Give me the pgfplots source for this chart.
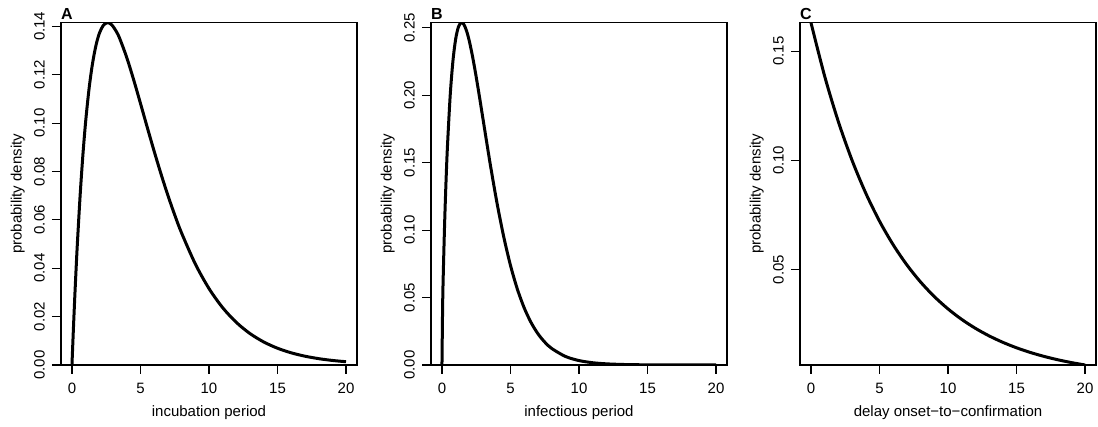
\documentclass[border=0pt]{standalone}
\usepackage{pgfplots}
\pgfplotsset{compat=1.18}
\usepackage{fontspec}
\setmainfont{Liberation Sans}
\pgfplotstableread{
x y
0 0
0.1 0.014235
0.2 0.027396
0.3 0.039543
0.4 0.050734
0.6 0.070467
0.8 0.087002
1.0 0.100701
1.25 0.114336
1.5 0.124622
1.75 0.132063
2.0 0.137092
2.3 0.140474
2.6 0.141492
2.9 0.140621
3.25 0.137743
3.5 0.134745
4 0.127053
4.5 0.117932
5 0.108114
5.5 0.098121
6 0.088314
6.5 0.078928
7 0.070124
7.5 0.061997
8 0.054556
9 0.041778
10 0.031605
11 0.023666
12 0.017574
13 0.012958
14 0.009498
15 0.006927
16 0.005030
17 0.003639
18 0.002623
19 0.001883
20 0.001349
}\dataA
\pgfplotstableread{
x y
0 0
0.05 0.04480
0.1 0.06912
0.2 0.10703
0.3 0.13716
0.4 0.16198
0.6 0.19977
0.8 0.22539
1.0 0.24168
1.2 0.25063
1.4 0.25382
1.6 0.25246
1.8 0.24756
2.0 0.23999
2.25 0.22775
2.5 0.21350
2.75 0.19803
3.0 0.18202
3.5 0.15032
4.0 0.12101
4.5 0.09540
5.0 0.07386
5.5 0.05631
6.0 0.04237
6.5 0.03153
7.0 0.02322
7.5 0.01697
8.0 0.01231
9.0 0.006386
10 0.003275
11 0.001674
12 0.000858
13 0.000443
14 0.000230
15 0.000120
16 0.000062
18 0.000017
20 0.000005
}\dataB
\pgfplotstableread{
x y
0 0.163
1 0.138483
2 0.117655
3 0.099961
4 0.084925
5 0.072150
6 0.061298
7 0.052077
8 0.044245
9 0.037589
10 0.031936
11 0.027133
12 0.023051
13 0.019584
14 0.016639
15 0.014136
16 0.012010
17 0.010203
18 0.008669
19 0.007365
20 0.006257
}\dataC
\begin{document}
\fontsize{15pt}{18pt}\selectfont
\begin{tikzpicture}
\path[use as bounding box] (0,0) rectangle (1098pt,427pt);
\pgfplotsset{
  rplot/.style={
    scale only axis, width=296pt, height=342.3pt, anchor=south west,
    xmin=-0.8, xmax=20.8,
    xtick={0,5,10,15,20}, xticklabels={},
    tick align=outside, tick pos=left,
    major tick length=9pt,
    major tick style={black, line width=1.1pt},
    axis line style={line width=1.1pt},
    yticklabel style={rotate=90, anchor=south, inner sep=0pt},
    yticklabel shift=7pt,
    clip mode=individual,
  },
  curve/.style={black, line width=3pt, smooth, no marks},
}
\newcommand{\xlabs}{\pgfplotsinvokeforeach{0,5,10,15,20}{\node[anchor=base, inner sep=0pt, yshift=-28.3pt] at ({axis cs:##1,0} |- {rel axis cs:0,0}) {##1};}}
\begin{axis}[rplot, at={(61pt,62pt)}, ymin=0, ymax=0.141492,
  ytick={0,0.02,0.04,0.06,0.08,0.10,0.12,0.14},
  yticklabels={0.00,0.02,0.04,0.06,0.08,0.10,0.12,0.14}]
\addplot[curve] table[x=x,y=y] {\dataA};
\xlabs
\end{axis}
\begin{axis}[rplot, at={(431pt,62pt)}, ymin=0, ymax=0.25382,
  ytick={0,0.05,0.10,0.15,0.20,0.25},
  yticklabels={0.00,0.05,0.10,0.15,0.20,0.25}]
\addplot[curve] table[x=x,y=y] {\dataB};
\xlabs
\end{axis}
\begin{axis}[rplot, at={(800pt,62pt)}, ymin=0.006257, ymax=0.163,
  ytick={0.05,0.10,0.15},
  yticklabels={0.05,0.10,0.15}]
\addplot[curve] table[x=x,y=y] {\dataC};
\xlabs
\end{axis}
\foreach \bx/\lab/\xl in {61/A/incubation period, 431/B/infectious period, 800/C/delay onset−to−confirmation}{
  \node[anchor=base west, inner sep=0pt, font=\fontsize{16pt}{19pt}\selectfont\bfseries] at (\bx pt, 407pt) {\lab};
  \node[anchor=base, inner sep=0pt] at (\bx pt+148pt, 10.3pt) {\xl};
  \node[anchor=base, inner sep=0pt, rotate=90] at (\bx pt-39.5pt, 233.15pt) {probability density};
}
\end{tikzpicture}
\end{document}
